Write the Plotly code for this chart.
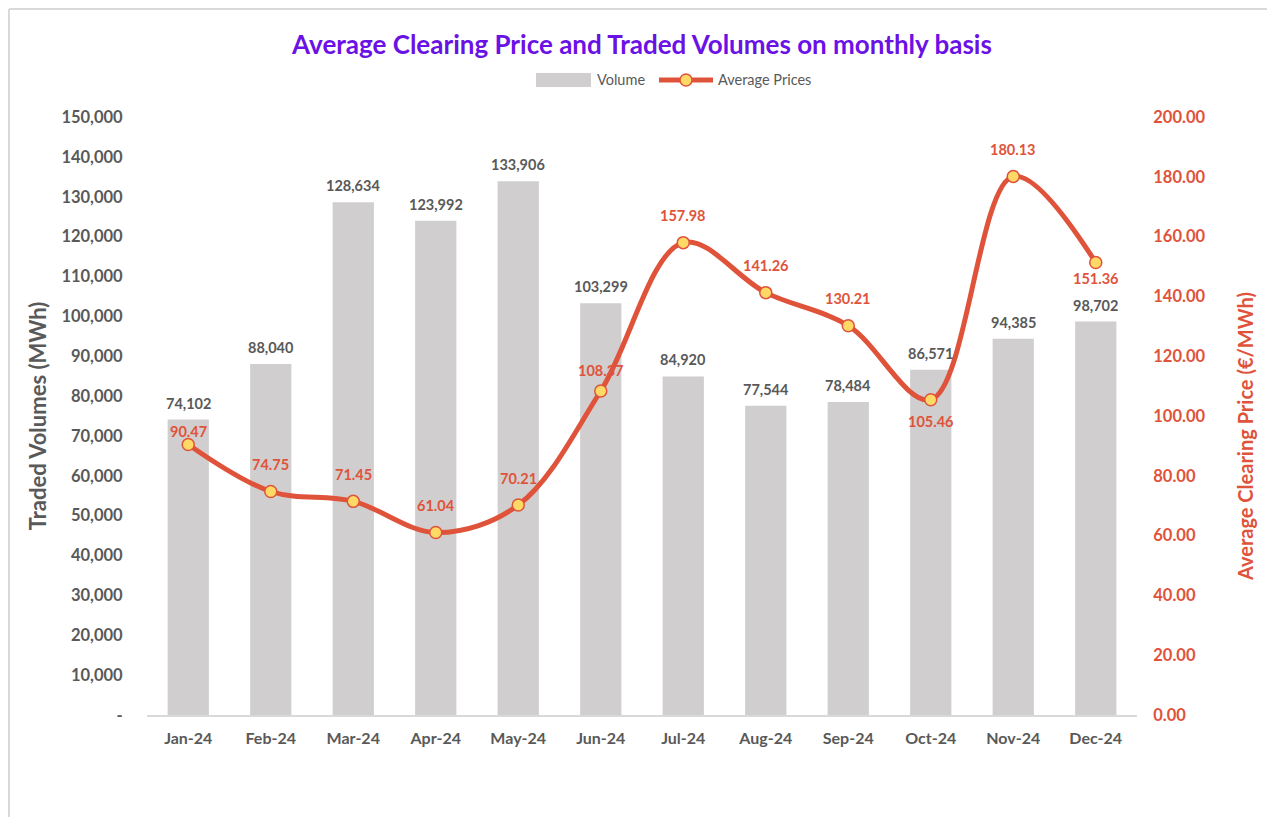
import plotly.graph_objects as go

months = ["Jan-24", "Feb-24", "Mar-24", "Apr-24", "May-24", "Jun-24",
          "Jul-24", "Aug-24", "Sep-24", "Oct-24", "Nov-24", "Dec-24"]
volumes = [74102, 88040, 128634, 123992, 133906, 103299,
           84920, 77544, 78484, 86571, 94385, 98702]
prices = [90.47, 74.75, 71.45, 61.04, 70.21, 108.37,
          157.98, 141.26, 130.21, 105.46, 180.13, 151.36]
# vertical offset (px) of each price label from its point (style only)
price_label_shift = [13, 27, 27, 27, 27, 20, 27, 27, 27, -22, 27, -16]

left_ticks = list(range(0, 150001, 10000))
left_text = ["-"] + [f"{v:,}" for v in left_ticks[1:]]
right_ticks = list(range(0, 201, 20))
right_text = [f"{v:.2f}" for v in right_ticks]

GRAY = "#595959"
RED = "#E0533B"
BAR = "#D0CECE"
YELLOW = "#FFD966"
FONT = "Lato"

OFF = 8  # page body margin
W, H = 1275, 817
L, R, T, B = 147 - OFF, 138 + OFF, 117 - OFF, 102 + OFF
pw, ph = W - L - R, H - T - B


def px_x(p):
    return (p - OFF - L) / pw


def px_y(p):
    return (H - B - (p - OFF)) / ph


fig = go.Figure()
fig.add_trace(go.Bar(
    x=months, y=volumes, name="Volume",
    marker=dict(color=BAR, line=dict(width=0)),
    width=0.5,
    yaxis="y",
    showlegend=False,
))
fig.add_trace(go.Scatter(
    x=months, y=prices, name="Average Prices",
    mode="lines+markers",
    line=dict(color=RED, width=5, shape="spline", smoothing=1.0),
    marker=dict(size=12, color=YELLOW, line=dict(color=RED, width=1.5)),
    yaxis="y2",
    cliponaxis=False,
    showlegend=False,
))

annotations = []
for m, v in zip(months, volumes):
    annotations.append(dict(
        x=m, y=v, xref="x", yref="y", text=f"{v:,}", showarrow=False,
        yanchor="bottom", yshift=6,
        font=dict(family=FONT, size=14.5, color=GRAY, weight="bold"),
    ))
for m, p, s in zip(months, prices, price_label_shift):
    annotations.append(dict(
        x=m, y=p, xref="x", yref="y2", text=f"{p:.2f}", showarrow=False,
        yshift=s,
        font=dict(family=FONT, size=14.5, color=RED, weight="bold"),
    ))

# right axis title (placed as rotated text, slightly below centre as in source)
annotations.append(dict(
    x=px_x(1245), y=px_y(437), xref="paper", yref="paper",
    text="Average Clearing Price (€/MWh)", textangle=-90, showarrow=False,
    xanchor="center", yanchor="middle",
    font=dict(family=FONT, size=20, color=RED, weight="bold"),
))

# legend (custom, to match the wide swatches of the source)
LEG_Y = 80
annotations.append(dict(
    x=px_x(595), y=px_y(LEG_Y), xref="paper", yref="paper", text="Volume",
    showarrow=False, xanchor="left", yanchor="middle",
    font=dict(family=FONT, size=14.5, color=GRAY),
))
annotations.append(dict(
    x=px_x(716), y=px_y(LEG_Y), xref="paper", yref="paper",
    text="Average Prices", showarrow=False, xanchor="left", yanchor="middle",
    font=dict(family=FONT, size=14.5, color=GRAY),
))

shapes = [
    # chart frame
    dict(type="line", xref="paper", yref="paper",
         x0=px_x(9), x1=px_x(1290), y0=px_y(9), y1=px_y(9),
         line=dict(color="#D9D9D9", width=2)),
    dict(type="line", xref="paper", yref="paper",
         x0=px_x(9), x1=px_x(9), y0=px_y(9), y1=px_y(830),
         line=dict(color="#D9D9D9", width=2)),
    # legend swatches
    dict(type="rect", xref="paper", yref="paper",
         x0=px_x(536), x1=px_x(591), y0=px_y(LEG_Y + 7), y1=px_y(LEG_Y - 7),
         fillcolor=BAR, line=dict(width=0)),
    dict(type="line", xref="paper", yref="paper",
         x0=px_x(659), x1=px_x(713), y0=px_y(LEG_Y), y1=px_y(LEG_Y),
         line=dict(color=RED, width=5)),
    dict(type="circle", xref="paper", yref="paper",
         xsizemode="pixel", ysizemode="pixel",
         xanchor=px_x(686), yanchor=px_y(LEG_Y),
         x0=-6, x1=6, y0=-6, y1=6,
         fillcolor=YELLOW, line=dict(color=RED, width=1.5)),
]

fig.update_layout(
    width=W, height=H,
    margin=dict(l=L, r=R, t=T, b=B),
    paper_bgcolor="white", plot_bgcolor="white",
    font=dict(family=FONT, color=GRAY),
    title=dict(
        text="Average Clearing Price and Traded Volumes on monthly basis",
        x=px_x(642), xref="paper", xanchor="center",
        y=1 - (45 - OFF) / H, yanchor="middle",
        font=dict(family=FONT, size=26, color="#6A11E6", weight="bold"),
    ),
    showlegend=False,
    bargap=0.5,
    xaxis=dict(
        range=[-0.5, 11.5],
        showline=True, linecolor="#D9D9D9", linewidth=1.5,
        showgrid=False, zeroline=False,
        ticks="outside", ticklen=8, tickcolor="rgba(0,0,0,0)",
        tickfont=dict(family=FONT, size=16, color=GRAY, weight="bold"),
    ),
    yaxis=dict(
        range=[0, 150000],
        tickvals=left_ticks, ticktext=left_text,
        showgrid=False, zeroline=False, showline=False,
        ticks="outside", ticklen=20, tickcolor="rgba(0,0,0,0)",
        tickfont=dict(family=FONT, size=16.5, color=GRAY, weight="bold"),
        title=dict(text="Traded Volumes (MWh)", standoff=8,
                   font=dict(family=FONT, size=22, color=GRAY, weight="bold")),
    ),
    yaxis2=dict(
        range=[0, 200], overlaying="y", side="right",
        tickvals=right_ticks, ticktext=right_text,
        showgrid=False, zeroline=False, showline=False,
        ticks="outside", ticklen=12, tickcolor="rgba(0,0,0,0)",
        tickfont=dict(family=FONT, size=16.5, color=RED, weight="bold"),
    ),
    annotations=annotations,
    shapes=shapes,
)

fig.write_html("out.html")
